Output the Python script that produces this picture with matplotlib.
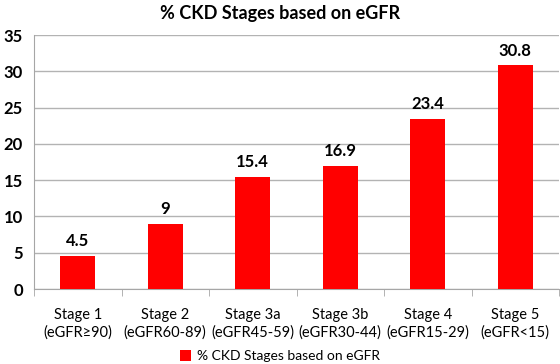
import matplotlib.pyplot as plt
import numpy as np

plt.rcParams['font.family'] = ['Lato', 'DejaVu Sans']

stages = ['Stage 1\n(eGFR≥90)', 'Stage 2\n(eGFR60-89)', 'Stage 3a\n(eGFR45-59)',
          'Stage 3b\n(eGFR30-44)', 'Stage 4\n(eGFR15-29)', 'Stage 5\n(eGFR<15)']
values = [4.5, 9, 15.4, 16.9, 23.4, 30.8]
value_labels = ['4.5', '9', '15.4', '16.9', '23.4', '30.8']
series_name = '% CKD Stages based on eGFR'

fig = plt.figure(figsize=(5.6, 3.64), dpi=100)
ax = fig.add_axes([34 / 560, 75 / 364, 525 / 560, 254 / 364])

x = np.arange(len(stages))
bars = ax.bar(x, values, width=0.4, color='#ff0000', label=series_name, zorder=3)

for xi, v, lab in zip(x, values, value_labels):
    ax.annotate(lab, (xi, v), xytext=(0, 5), textcoords='offset points',
                ha='center', va='bottom', fontsize=12, fontweight='bold')

ax.set_xlim(-0.5, len(stages) - 0.5)
ax.set_ylim(0, 35)
ax.set_yticks(range(0, 36, 5))
ax.set_yticklabels([str(t) for t in range(0, 36, 5)], fontsize=12, fontweight='bold')
ax.tick_params(axis='y', length=0, pad=8)

ax.set_xticks(x)
ax.set_xticklabels(stages, fontsize=10.5, linespacing=1.3)
ax.set_xticks(np.arange(-0.5, len(stages), 1), minor=True)
ax.tick_params(axis='x', which='major', length=0, pad=14)
ax.tick_params(axis='x', which='minor', length=5, color='#a6a6a6')

ax.yaxis.grid(True, color='#b3b3b3', linewidth=1, zorder=0)
for s in ['top', 'right']:
    ax.spines[s].set_visible(False)
for s in ['left', 'bottom']:
    ax.spines[s].set_color('#a6a6a6')

fig.text(0.5, 1 - 14 / 364, series_name, ha='center', va='center',
         fontsize=13, fontweight='bold')

fig.legend(handles=[bars], labels=[series_name], loc='center',
           bbox_to_anchor=(0.5, 1 - 356 / 364), frameon=False, fontsize=10,
           handlelength=0.8, handleheight=0.8, handletextpad=0.4)

plt.savefig('out.png', dpi=100)
plt.close()
